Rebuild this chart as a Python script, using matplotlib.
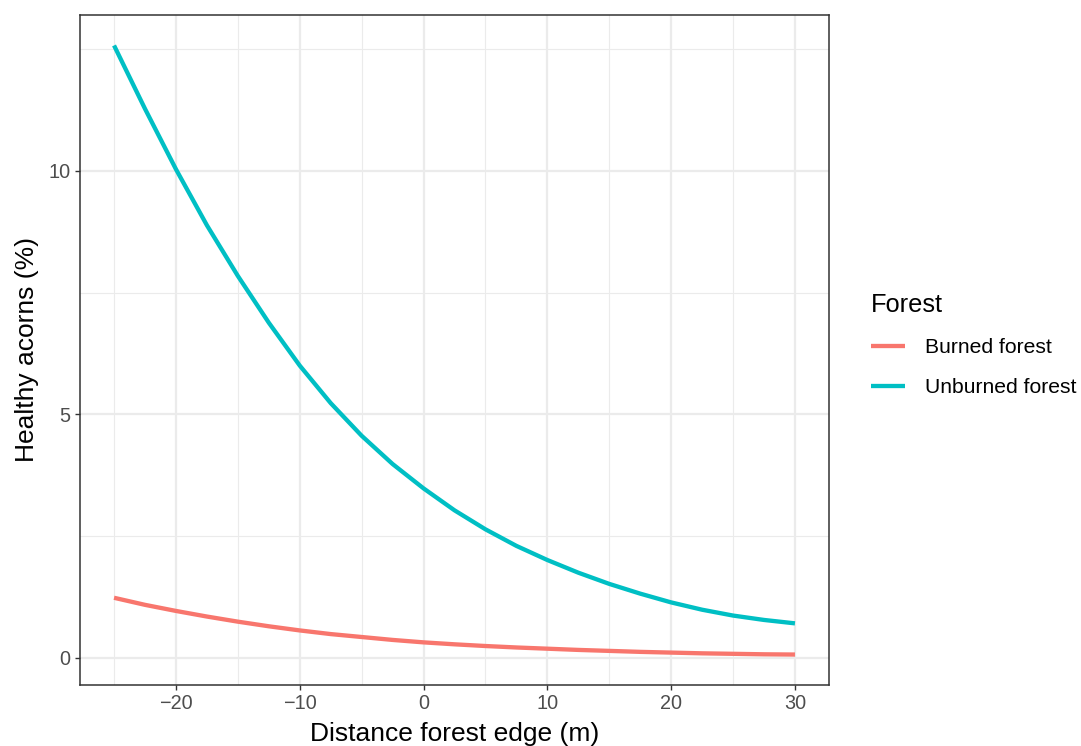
import matplotlib
matplotlib.use("Agg")
import matplotlib.pyplot as plt

# Distance from forest edge (m)
distance = [-25, -22.5, -20, -17.5, -15, -12.5, -10, -7.5, -5, -2.5, 0,
            2.5, 5, 7.5, 10, 12.5, 15, 17.5, 20, 22.5, 25, 27.5, 30]

# Predicted healthy acorns (%)
burned = [1.235, 1.09, 0.965, 0.85, 0.745, 0.65, 0.565, 0.49, 0.43, 0.37, 0.32,
          0.28, 0.245, 0.215, 0.19, 0.165, 0.145, 0.125, 0.11, 0.095, 0.085, 0.075, 0.07]
unburned = [12.57, 11.27, 10.03, 8.88, 7.84, 6.88, 6.00, 5.23, 4.56, 3.98, 3.48,
            3.03, 2.64, 2.30, 2.01, 1.75, 1.52, 1.32, 1.14, 0.99, 0.87, 0.78, 0.71]

x_major = [-20, -10, 0, 10, 20, 30]
x_minor = [-25, -15, -5, 5, 15, 25]
x_labels = ["\u221220", "\u221210", "0", "10", "20", "30"]
y_major = [0, 5, 10]
y_minor = [2.5, 7.5, 12.5]

plt.rcParams["font.family"] = ["Liberation Sans", "DejaVu Sans"]

fig = plt.figure(figsize=(10.81, 7.46), dpi=100)
ax = fig.add_axes([80 / 1081, 1 - 685 / 746, (829 - 80) / 1081, (685 - 15) / 746])

ax.plot(distance, burned, color="#F8766D", lw=3.1, label="Burned forest",
        solid_capstyle="butt", solid_joinstyle="round", zorder=3)
ax.plot(distance, unburned, color="#00BFC4", lw=3.1, label="Unburned forest",
        solid_capstyle="butt", solid_joinstyle="round", zorder=3)

# ggplot-like expansion of 5%
ymin = min(burned)
ymax = max(unburned)
yr = ymax - ymin
ax.set_xlim(-25 - 2.75, 30 + 2.75)
ax.set_ylim(ymin - 0.05 * yr, ymax + 0.05 * yr)

ax.set_xticks(x_major)
ax.set_xticks(x_minor, minor=True)
ax.set_xticklabels(x_labels)
ax.set_yticks(y_major)
ax.set_yticks(y_minor, minor=True)

ax.grid(which="major", color="#EBEBEB", lw=1.6, zorder=0)
ax.grid(which="minor", color="#EBEBEB", lw=0.8, zorder=0)
ax.set_axisbelow(True)

ax.tick_params(which="major", length=3.8, width=1, color="#333333",
               labelsize=14.3, labelcolor="#4D4D4D", pad=3)
ax.tick_params(which="minor", length=0)
for s in ax.spines.values():
    s.set_color("#333333")
    s.set_linewidth(1.1)

ax.set_xlabel("Distance forest edge (m)", fontsize=19, labelpad=6.5)
ax.set_ylabel("Healthy acorns (%)", fontsize=19, labelpad=7)

leg = ax.legend(loc="upper left", bbox_to_anchor=(852 / 1081, 1 - 274 / 746),
                bbox_transform=fig.transFigure, frameon=False,
                title="Forest", title_fontsize=18.3, fontsize=15.2,
                handlelength=1.6, handletextpad=0.95, labelspacing=1.0,
                alignment="left")

fig.savefig("out.png", dpi=100)
